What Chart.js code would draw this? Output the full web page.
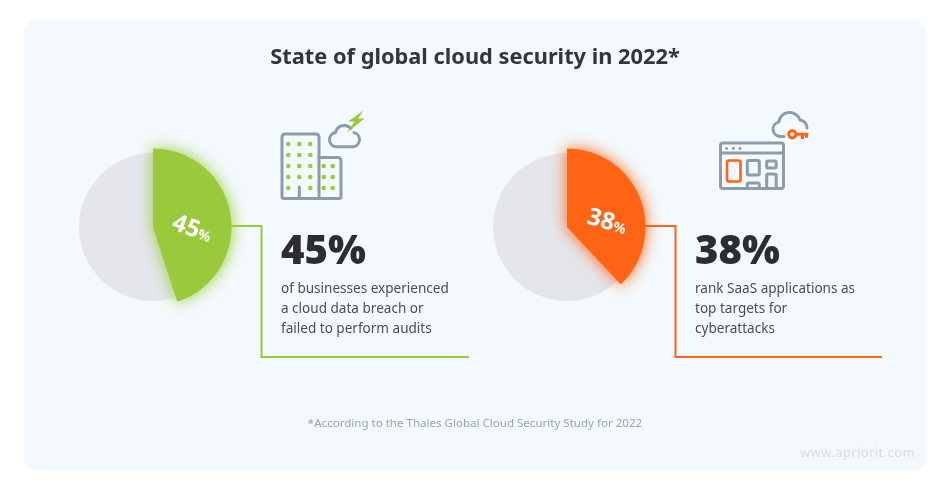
<!DOCTYPE html>
<html>
<head>
<meta charset="utf-8">
<title>State of global cloud security in 2022</title>
<script src="https://cdn.jsdelivr.net/npm/chart.js@4"></script>
<style>
  html, body { margin: 0; padding: 0; background: #fff; }
  body { width: 950px; height: 490px; position: relative; overflow: hidden; font-family: "Noto Sans", sans-serif; }
  #card { position: absolute; left: 24px; top: 20px; width: 902px; height: 450px; background: #f3f9fc; border-radius: 12px; }
  .abs { position: absolute; white-space: nowrap; }
  #title { left: 0; width: 950px; top: 40px; text-align: center; font-size: 21.8px; line-height: 32px; font-weight: 700; color: #33363b; }
  .big { font-size: 40px; line-height: 50px; font-weight: 900; color: #2b2d31; top: 224px; }
  .desc { font-size: 13.55px; line-height: 20px; color: #4b4e53; top: 278px; }
  #note { left: 0; width: 950px; top: 415px; text-align: center; font-size: 11.55px; line-height: 16px; color: #9aa5ad; }
  #site { left: 800px; top: 443px; font-size: 13px; line-height: 18px; color: #d3dde3; letter-spacing: 0.4px; }
  .sliceLabel { color: #fff; font-size: 24px; line-height: 26px; font-weight: 700; transform-origin: center; }
  .sliceLabel small { font-size: 14px; font-weight: 700; }
  canvas { position: absolute; }
  svg { position: absolute; left: 0; top: 0; }
</style>
</head>
<body>
<div id="card"></div>

<!-- pies: grey base under, coloured share on top -->
<canvas id="baseA" width="200" height="200" style="left:53px;top:126.5px;width:200px;height:200px"></canvas>
<canvas id="shareA" width="200" height="200" style="left:53px;top:126.5px;width:200px;height:200px"></canvas>
<canvas id="baseB" width="200" height="200" style="left:467px;top:126.5px;width:200px;height:200px"></canvas>
<canvas id="shareB" width="200" height="200" style="left:467px;top:126.5px;width:200px;height:200px"></canvas>

<!-- connectors and icons -->
<svg width="950" height="490" viewBox="0 0 950 490" fill="none">
  <polyline points="231,226 261.5,226 261.5,357 469,357" stroke="#9aca3c" stroke-width="2"/>
  <polyline points="645,226 675.5,226 675.5,357 882,357" stroke="#ff6314" stroke-width="2"/>

  <g stroke="#8c9cab" stroke-width="3" stroke-linejoin="round" stroke-linecap="round">
    <path d="M319 198.5H284a2 2 0 0 1-2-2V137a3 3 0 0 1 3-3h31a3 3 0 0 1 3 3z"/>
    <path d="M319 157.5h19a3 3 0 0 1 3 3v36a2 2 0 0 1-2 2h-20"/>
    <path d="M299.3 198v-11"/>
    <path d="M351 128.5a9 9 0 0 0-15.5 4a7.2 7.2 0 0 0 1 14.3h16a7.2 7.2 0 0 0 1.5-14.2"/>
  </g>
  <g fill="#9aca3c" id="dots">
    <circle cx="288.3" cy="144" r="2.3"/><circle cx="299.3" cy="144" r="2.3"/><circle cx="310.3" cy="144" r="2.3"/>
    <circle cx="288.3" cy="155" r="2.3"/><circle cx="299.3" cy="155" r="2.3"/><circle cx="310.3" cy="155" r="2.3"/>
    <circle cx="288.3" cy="166" r="2.3"/><circle cx="299.3" cy="166" r="2.3"/><circle cx="310.3" cy="166" r="2.3"/>
    <circle cx="288.3" cy="177" r="2.3"/><circle cx="299.3" cy="177" r="2.3"/><circle cx="310.3" cy="177" r="2.3"/>
    <circle cx="288.3" cy="188" r="2.3"/><circle cx="310.3" cy="188" r="2.3"/>
    <circle cx="323.7" cy="166" r="2.3"/><circle cx="332.7" cy="166" r="2.3"/>
    <circle cx="323.7" cy="177" r="2.3"/><circle cx="332.7" cy="177" r="2.3"/>
    <circle cx="323.7" cy="188" r="2.3"/><circle cx="332.7" cy="188" r="2.3"/>
    <polygon points="363.5,110.5 348,121.5 354.5,121.5 347,132.5 364.5,118.5 358,118.5"/>
  </g>

  <g stroke="#8c9cab" stroke-width="3" stroke-linejoin="round" stroke-linecap="round">
    <rect x="720.5" y="143" width="63" height="45.5" rx="2.5"/>
    <path d="M720.5 153h63"/>
    <rect x="747.3" y="160.5" width="12" height="14.5" rx="1.5"/>
    <rect x="766.7" y="161" width="9.5" height="7" rx="1.5"/>
    <path d="M766.7 188v-12.5a1.5 1.5 0 0 1 1.5-1.5h6.5a1.5 1.5 0 0 1 1.5 1.5V188"/>
    <path d="M747.3 188v-3.5a1.5 1.5 0 0 1 1.5-1.5h9a1.5 1.5 0 0 1 1.5 1.5V188"/>
    <path d="M784 136.5h-4a7.3 7.3 0 0 1-1.3-14.4a11 11 0 0 1 21.3-2.2a8 8 0 0 1 7 8"/>
  </g>
  <g fill="#8c9cab">
    <circle cx="726.7" cy="148.5" r="1.4"/><circle cx="733.3" cy="148.5" r="1.4"/><circle cx="740" cy="148.5" r="1.4"/>
  </g>
  <rect x="727" y="160.5" width="13.5" height="21" rx="2" stroke="#ff6314" stroke-width="2.6"/>
  <g stroke="#ff6314" stroke-width="3">
    <circle cx="792.3" cy="134.3" r="3.6"/>
    <path d="M796 134.3h12.3M802.5 134.3v5M806.5 134.3v3.5"/>
  </g>
</svg>

<div id="title" class="abs">State of global cloud security in 2022*</div>

<div class="abs sliceLabel" style="left:172px;top:214px;transform:rotate(20deg)">45<small>%</small></div>
<div class="abs sliceLabel" style="left:587px;top:207px;transform:rotate(16deg)">38<small>%</small></div>

<div class="abs big" style="left:281px">45%</div>
<div class="abs desc" style="left:281px">of businesses experienced<br>a cloud data breach or<br>failed to perform audits</div>

<div class="abs big" style="left:695px">38%</div>
<div class="abs desc" style="left:695px">rank SaaS applications as<br>top targets for<br>cyberattacks</div>

<div id="note" class="abs">*According to the Thales Global Cloud Security Study for 2022</div>
<div id="site" class="abs">www.apriorit.com</div>

<script>
// ── data ──────────────────────────────────────────────────
const labelsA = ['Experienced a breach or failed audits', 'Other businesses'];
const labelsB = ['Rank SaaS as top target', 'Other respondents'];
const sharesA = [45, 55];
const sharesB = [38, 62];
const baseValues = [100];

const GREEN  = '#9aca3c';
const ORANGE = '#ff6314';
const GREY   = '#e4e6eb';

// Outer radius is set through layout padding: canvas is 200px wide
const BASE_PAD  = 26;    // r = 74
const SHARE_PAD = 21.5;  // r = 78.5

// Canvas shadow around the coloured slice
const glow = {
  id: 'glow',
  beforeDatasetDraw(chart, args, opts) {
    if (!opts.color) return;
    chart.ctx.save();
    chart.ctx.shadowColor = opts.color;
    chart.ctx.shadowBlur = opts.blur;
  },
  afterDatasetDraw(chart, args, opts) {
    if (opts.color) chart.ctx.restore();
  },
};

function makePie(id, labels, values, colors, pad, glowColor) {
  return new Chart(document.getElementById(id), {
    type: 'pie',
    data: {
      labels,
      datasets: [{ data: values, backgroundColor: colors, borderWidth: 0 }],
    },
    options: {
      responsive: false,
      animation: false,
      layout: { padding: pad },
      plugins: {
        legend: { display: false },
        tooltip: { enabled: false },
        glow: { color: glowColor, blur: 16 },
      },
    },
    plugins: [glow],
  });
}

makePie('baseA', ['All businesses'], baseValues, [GREY], BASE_PAD, null);
makePie('shareA', labelsA, sharesA, [GREEN, 'rgba(0,0,0,0)'], SHARE_PAD, GREEN);
makePie('baseB', ['All respondents'], baseValues, [GREY], BASE_PAD, null);
makePie('shareB', labelsB, sharesB, [ORANGE, 'rgba(0,0,0,0)'], SHARE_PAD, ORANGE);
</script>
</body>
</html>
